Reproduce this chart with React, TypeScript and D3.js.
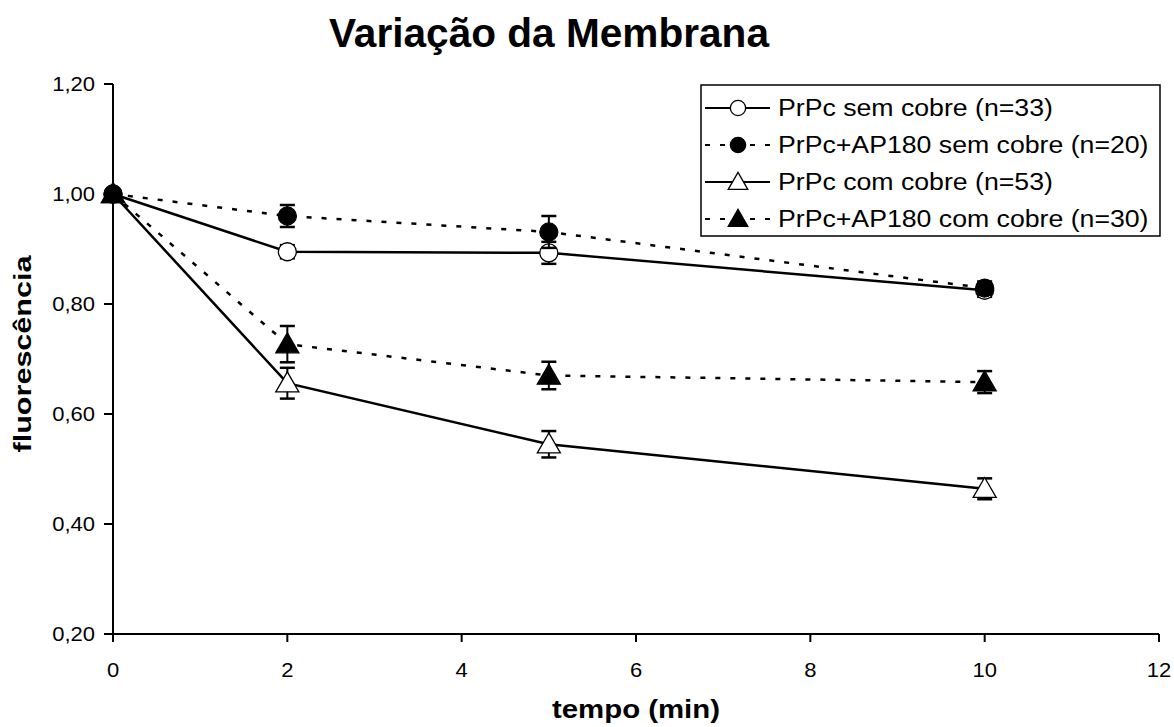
import React from "react";
import * as d3 from "d3";

const times = [0, 2, 5, 10];
const seriesNames = [
  "PrPc sem cobre (n=33)",
  "PrPc+AP180 sem cobre (n=20)",
  "PrPc com cobre (n=53)",
  "PrPc+AP180 com cobre (n=30)",
];
const prpcSem = [1.0, 0.895, 0.893, 0.825];
const prpcSemErr = [0.005, 0.012, 0.02, 0.012];
const apSem = [1.0, 0.96, 0.931, 0.829];
const apSemErr = [0.005, 0.02, 0.029, 0.012];
const prpcCom = [1.0, 0.656, 0.545, 0.464];
const prpcComErr = [0.005, 0.028, 0.024, 0.019];
const apCom = [1.0, 0.727, 0.67, 0.658];
const apComErr = [0.005, 0.033, 0.025, 0.02];
const xTicks = [0, 2, 4, 6, 8, 10, 12];
const yTicks = [0.2, 0.4, 0.6, 0.8, 1.0, 1.2];

const W = 1174, H = 727;
const x = d3.scaleLinear().domain([0, 12]).range([113, 1159]);
const y = d3.scaleLinear().domain([0.2, 1.2]).range([634, 84]);

type Ser = { name: string; vals: number[]; errs: number[]; dashed: boolean; shape: "circle" | "triangle"; filled: boolean };
const series: Ser[] = [
  { name: seriesNames[0], vals: prpcSem, errs: prpcSemErr, dashed: false, shape: "circle", filled: false },
  { name: seriesNames[1], vals: apSem, errs: apSemErr, dashed: true, shape: "circle", filled: true },
  { name: seriesNames[2], vals: prpcCom, errs: prpcComErr, dashed: false, shape: "triangle", filled: false },
  { name: seriesNames[3], vals: apCom, errs: apComErr, dashed: true, shape: "triangle", filled: true },
];

const fmt = (v: number) => v.toFixed(2).replace(".", ",");
const FONT = "'Liberation Sans', Arial, sans-serif";

function Marker({ s, cx, cy, scale = 1 }: { s: Ser; cx: number; cy: number; scale?: number }) {
  const fill = s.filled ? "#000" : "#fff";
  if (s.shape === "circle") {
    return <circle cx={cx} cy={cy} r={9 * scale} fill={fill} stroke="#000" strokeWidth={1.3} />;
  }
  const sym = d3.symbol().type(d3.symbolTriangle).size(230 * scale * scale)();
  return <path d={sym || ""} transform={`translate(${cx},${cy + 2 * scale})`} fill={fill} stroke="#000" strokeWidth={1.3} />;
}

export default function App() {
  const line = d3.line<number>().x((_, i) => x(times[i])).y((v) => y(v));
  return (
    <svg width={W} height={H} style={{ position: "absolute", left: 0, top: 0, background: "#fff" }} fontFamily={FONT}>
      <rect x={0} y={0} width={W} height={H} fill="#fff" />
      <text x={549} y={47} textAnchor="middle" fontSize={41} fontWeight="bold" textLength={440} lengthAdjust="spacingAndGlyphs">Variação da Membrana</text>

      {/* axes */}
      <line x1={x(0)} y1={y(1.2)} x2={x(0)} y2={y(0.2)} stroke="#000" strokeWidth={2} />
      <line x1={x(0)} y1={y(0.2)} x2={x(12)} y2={y(0.2)} stroke="#000" strokeWidth={2} />
      {yTicks.map((t) => (
        <g key={t}>
          <line x1={x(0) - 9} x2={x(0)} y1={y(t)} y2={y(t)} stroke="#000" strokeWidth={2} />
          <text transform={`translate(${x(0) - 18},${y(t) + 7}) scale(1.1,1)`} textAnchor="end" fontSize={20}>{fmt(t)}</text>
        </g>
      ))}
      {xTicks.map((t) => (
        <g key={t}>
          <line x1={x(t)} x2={x(t)} y1={y(0.2)} y2={y(0.2) + 8} stroke="#000" strokeWidth={2} />
          <text transform={`translate(${x(t)},${677}) scale(1.1,1)`} textAnchor="middle" fontSize={20}>{t}</text>
        </g>
      ))}
      <text x={636} y={718} textAnchor="middle" fontSize={25} fontWeight="bold" textLength={168} lengthAdjust="spacingAndGlyphs">tempo (min)</text>
      <text transform="translate(31,354) rotate(-90)" textAnchor="middle" fontSize={24} fontWeight="bold" textLength={197} lengthAdjust="spacingAndGlyphs">fluorescência</text>

      {/* lines */}
      {series.map((s, si) => (
        <path key={"l" + si} d={line(s.vals) || ""} fill="none" stroke="#000" strokeWidth={2.5}
          strokeDasharray={s.dashed ? "5,10" : undefined} />
      ))}
      {/* error bars and markers */}
      {series.map((s, si) => (
        <g key={"m" + si}>
          {s.vals.map((v, i) => {
            const cx = x(times[i]);
            const top = y(v + s.errs[i]);
            const bot = y(v - s.errs[i]);
            return (
              <g key={i}>
                <line x1={cx} x2={cx} y1={top} y2={bot} stroke="#000" strokeWidth={2} />
                <line x1={cx - 7.5} x2={cx + 7.5} y1={top} y2={top} stroke="#000" strokeWidth={2.5} />
                <line x1={cx - 7.5} x2={cx + 7.5} y1={bot} y2={bot} stroke="#000" strokeWidth={2.5} />
                <Marker s={s} cx={cx} cy={y(v)} />
              </g>
            );
          })}
        </g>
      ))}

      {/* legend */}
      <rect x={701} y={85} width={459} height={151} fill="#fff" stroke="#000" strokeWidth={1.5} />
      {series.map((s, i) => {
        const ly = 108 + i * 37;
        return (
          <g key={"lg" + i}>
            <line x1={705} x2={770} y1={ly} y2={ly} stroke="#000" strokeWidth={2}
              strokeDasharray={s.dashed ? "5,10" : undefined} />
            <Marker s={s} cx={738} cy={ly} scale={0.85} />
            <text transform={`translate(778,${ly + 8}) scale(1.16,1)`} fontSize={23}>{s.name}</text>
          </g>
        );
      })}
    </svg>
  );
}
